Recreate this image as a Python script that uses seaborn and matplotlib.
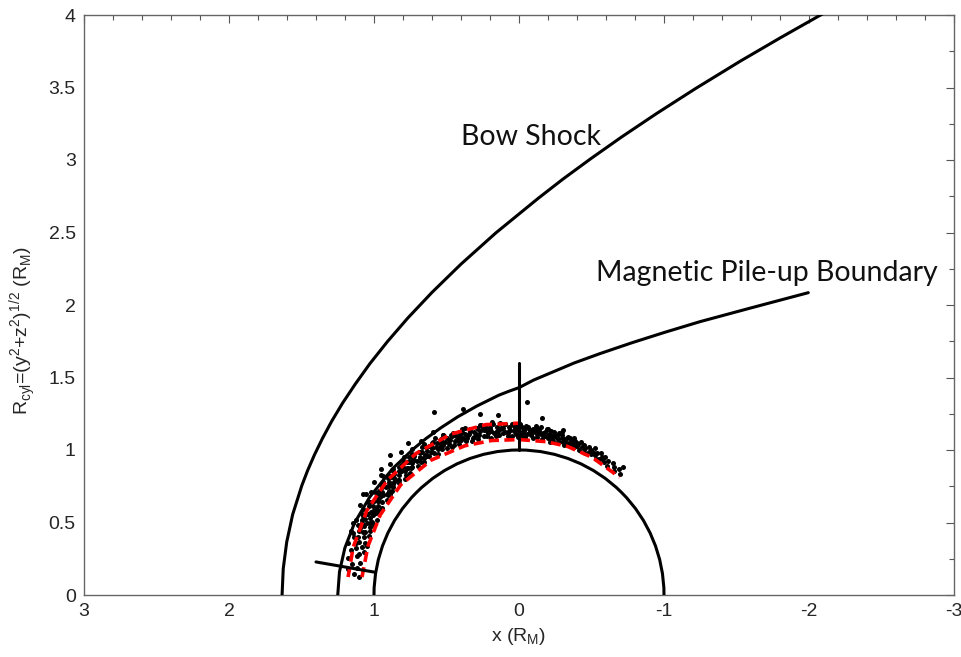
import numpy as np
import matplotlib
matplotlib.use("Agg")
import matplotlib.pyplot as plt
from matplotlib.patches import Arc
from matplotlib.ticker import MultipleLocator, FuncFormatter
import seaborn as sns

# Bow shock (x, Rcyl) in planet radii
bow_x = [1.634, 1.626, 1.602, 1.561, 1.498, 1.458, 1.411, 1.356, 1.292, 1.217,
         1.129, 1.028, 0.908, 0.767, 0.600, 0.400, 0.160, -0.134, -0.304, -0.495,
         -0.708, -0.948, -1.218, -1.525, -1.801, -2.110]
bow_y = [0.000, 0.181, 0.365, 0.555, 0.754, 0.858, 0.966, 1.079, 1.198, 1.323,
         1.455, 1.596, 1.747, 1.910, 2.087, 2.282, 2.497, 2.737, 2.869, 3.009,
         3.159, 3.320, 3.493, 3.681, 3.842, 4.017]

# Magnetic pile-up boundary
mpb_x = [1.250, 1.238, 1.201, 1.135, 1.030, 0.873, 0.728, 0.640, 0.539, 0.424,
         0.291, 0.139, 0.070, 0.000, -0.100, -0.214, -0.380, -0.559, -0.780,
         -1.000, -1.248, -1.600, -1.995]
mpb_y = [0.000, 0.160, 0.324, 0.495, 0.675, 0.870, 1.008, 1.080, 1.153, 1.228,
         1.303, 1.378, 1.405, 1.430, 1.482, 1.530, 1.600, 1.665, 1.740,
         1.810, 1.885, 1.980, 2.085]

# planet radius
planet_r = 1.0

# short marker segments
mark1_x = [0.0, 0.0]
mark1_y = [1.0, 1.6]
mark2_x = [1.40, 0.993]
mark2_y = [0.228, 0.157]

# red dashed fits (angle from +x in degrees, radius)
outer_th = [6, 16, 29, 41, 54, 67, 79, 90]
outer_r = [1.185, 1.19, 1.20, 1.205, 1.207, 1.205, 1.197, 1.185]
inner_th = [6.5, 18, 30, 43, 57, 70, 80, 90, 100, 108, 118, 130.5]
inner_r = [1.09, 1.095, 1.105, 1.115, 1.11, 1.095, 1.082, 1.072, 1.074, 1.078, 1.075, 1.068]

# crossing points (angle in degrees, radius)
pts_th = [
    6.3, 7.4, 8.6, 9.5, 10.4, 11.5, 12.3, 13.6,
    14.2, 14.9, 15.6, 16.1, 16.8, 17.2, 17.7, 17.9,
    18.3, 18.8, 19.4, 19.9, 20.5, 21.0, 21.4, 21.8,
    22.3, 22.7, 23.1, 23.6, 24.0, 24.4, 24.8, 25.2, 25.5, 25.9,
    26.2, 26.5, 26.9, 27.4, 27.8, 28.1, 28.6, 29.0, 29.3, 29.8,
    30.1, 30.6, 31.0, 31.3, 31.7, 32.2, 32.5, 33.0, 33.4, 33.8,
    34.3, 34.6, 35.1, 35.5, 35.8, 36.3, 36.7, 37.0, 37.4, 37.9,
    38.2, 38.5, 39.0, 39.4, 39.9, 40.2, 40.6, 41.1, 41.4, 41.8,
    42.1, 42.6, 43.0, 43.3, 43.8, 44.2, 44.5, 45.0, 45.4, 45.9,
    46.3, 46.7, 47.0, 47.5, 47.9, 48.2, 48.6, 49.1, 49.5, 49.8,
    50.2, 50.6, 51.1, 51.4, 51.8, 52.3, 52.6, 53.0, 53.5, 53.9,
    54.1, 54.5, 55.0, 55.4, 55.7, 56.2, 56.6, 57.1, 57.4, 57.8,
    58.3, 58.7, 59.0, 59.5, 59.9, 60.3, 60.6, 61.0, 61.5, 61.8,
    62.2, 62.5, 63.0, 63.4, 63.9, 64.1, 64.6, 65.0, 65.3, 65.8,
    66.1, 66.6, 67.0, 67.3, 67.8, 68.2, 68.5, 69.0, 69.4, 69.9,
    70.3, 70.7, 71.0, 71.5, 71.8, 72.2, 72.7, 73.1, 73.4, 73.8,
    74.2, 74.5, 75.0, 75.4, 75.9, 76.1, 76.6, 77.0, 77.5, 77.8,
    78.1, 78.6, 79.0, 79.3, 79.8, 80.2, 80.5, 81.0, 81.4, 81.9,
    82.3, 82.7, 83.0, 83.5, 83.8, 84.2, 84.6, 85.1, 85.4, 85.9,
    86.2, 86.5, 87.0, 87.4, 87.8, 88.3, 88.6, 89.0, 89.5, 89.8,
    90.1, 90.6, 91.0, 91.3, 91.8, 92.2, 92.5, 93.0, 93.4, 93.9,
    94.3, 94.7, 95.0, 95.5, 95.9, 96.2, 96.6, 97.1, 97.4, 97.8,
    98.2, 98.5, 99.0, 99.4, 99.8, 100.3, 100.6, 101.0, 101.5, 101.8,
    102.1, 102.6, 103.0, 103.3, 103.8, 104.2, 104.5, 105.0, 105.4, 105.9,
    106.3, 106.7, 107.0, 107.5, 107.8, 108.3, 108.6, 109.1, 109.4, 109.8,
    110.3, 110.8, 111.4, 111.9, 112.5, 113.0, 113.5, 113.9,
    114.2, 114.8, 115.3, 115.9, 116.4, 116.9, 117.3, 117.8,
    118.4, 118.9, 119.5, 119.9, 120.6, 121.0, 121.5, 121.9,
    122.5, 123.4, 124.3, 125.5, 126.4, 127.5, 128.6, 129.8,
    64.9, 73.4, 92.3, 54.0, 47.3, 42.3, 83.4, 77.9, 97.3, 104.8, 129.0, 38.0,
]
pts_r = [
    1.11, 1.15, 1.19, 1.13, 1.17, 1.12, 1.21, 1.15,
    1.14, 1.20, 1.11, 1.17, 1.23, 1.13, 1.18, 1.10,
    1.16, 1.12, 1.21, 1.18, 1.14, 1.24, 1.11, 1.19,
    1.15, 1.19, 1.12, 1.21, 1.17, 1.13, 1.24, 1.16, 1.20, 1.11,
    1.18, 1.13, 1.21, 1.16, 1.11, 1.19, 1.15, 1.23, 1.17, 1.14,
    1.16, 1.20, 1.13, 1.18, 1.22, 1.15, 1.12, 1.19, 1.26, 1.17,
    1.14, 1.19, 1.17, 1.21, 1.12, 1.16, 1.20, 1.18, 1.15, 1.13,
    1.20, 1.15, 1.18, 1.13, 1.22, 1.17, 1.14, 1.19, 1.16, 1.21,
    1.16, 1.21, 1.13, 1.18, 1.15, 1.20, 1.23, 1.17, 1.12, 1.19,
    1.18, 1.14, 1.21, 1.16, 1.19, 1.13, 1.17, 1.22, 1.15, 1.20,
    1.15, 1.19, 1.17, 1.22, 1.13, 1.18, 1.16, 1.20, 1.14, 1.25,
    1.17, 1.13, 1.20, 1.15, 1.19, 1.16, 1.22, 1.14, 1.18, 1.21,
    1.16, 1.20, 1.14, 1.18, 1.12, 1.21, 1.17, 1.15, 1.19, 1.23,
    1.14, 1.18, 1.16, 1.20, 1.13, 1.17, 1.22, 1.15, 1.19, 1.12,
    1.17, 1.13, 1.19, 1.15, 1.21, 1.12, 1.18, 1.16, 1.14, 1.20,
    1.15, 1.19, 1.12, 1.17, 1.14, 1.21, 1.16, 1.11, 1.18, 1.13,
    1.13, 1.17, 1.15, 1.11, 1.19, 1.14, 1.16, 1.20, 1.12, 1.18,
    1.16, 1.12, 1.18, 1.14, 1.10, 1.17, 1.15, 1.21, 1.13, 1.11,
    1.14, 1.17, 1.11, 1.15, 1.19, 1.12, 1.16, 1.13, 1.18, 1.10,
    1.12, 1.16, 1.14, 1.10, 1.18, 1.13, 1.15, 1.11, 1.17, 1.09,
    1.13, 1.10, 1.16, 1.12, 1.14, 1.09, 1.17, 1.11, 1.15, 1.13,
    1.11, 1.15, 1.09, 1.13, 1.16, 1.12, 1.10, 1.14, 1.17, 1.12,
    1.12, 1.09, 1.14, 1.11, 1.16, 1.10, 1.13, 1.15, 1.08, 1.12,
    1.10, 1.13, 1.08, 1.12, 1.15, 1.11, 1.09, 1.14, 1.12, 1.10,
    1.11, 1.08, 1.13, 1.10, 1.14, 1.09, 1.12, 1.11, 1.15, 1.10,
    1.09, 1.12, 1.10, 1.14, 1.08, 1.11, 1.13, 1.10,
    1.11, 1.08, 1.13, 1.10, 1.12, 1.09, 1.14, 1.11,
    1.10, 1.12, 1.08, 1.13, 1.09, 1.11, 1.10, 1.12,
    1.09, 1.11, 1.08, 1.12, 1.10, 1.08, 1.11, 1.09,
    1.39, 1.34, 1.33, 1.30, 1.31, 1.29, 1.25, 1.28, 1.23, 1.18, 1.14, 1.27,
]

# more crossings in the upper part of the band and scattered outliers
pts2_th = [
    20.6, 22.0, 23.4, 24.6, 25.9, 27.1, 28.4, 29.6, 30.9, 32.1,
    33.5, 34.8, 36.0, 37.3, 38.7, 39.8, 41.2, 42.5, 43.7, 45.1,
    46.4, 47.6, 48.9, 50.3, 51.5, 52.8, 54.2, 55.4, 56.7, 58.0,
    59.3, 60.6, 61.9, 63.2, 64.5, 65.8, 67.1, 68.4, 69.7, 71.0,
    72.3, 73.6, 74.9, 76.2, 77.5, 78.8, 80.1, 81.4, 82.7, 84.0,
    85.3, 86.6, 87.9, 89.2, 90.5, 91.8, 93.1, 94.4, 95.7, 97.0,
    98.3, 99.6, 100.9, 102.2, 103.5, 104.8, 106.1, 107.4, 108.7, 110.0,
    111.3, 41.0, 45.5, 50.5, 57.5, 33.0, 62.0,
]
pts2_r = [
    1.22, 1.16, 1.25, 1.19, 1.14, 1.22, 1.18, 1.26, 1.15, 1.21,
    1.17, 1.24, 1.19, 1.14, 1.22, 1.17, 1.25, 1.20, 1.15, 1.23,
    1.18, 1.21, 1.16, 1.24, 1.19, 1.22, 1.17, 1.20, 1.15, 1.23,
    1.18, 1.21, 1.16, 1.19, 1.22, 1.17, 1.20, 1.15, 1.18, 1.21,
    1.16, 1.19, 1.14, 1.18, 1.20, 1.15, 1.17, 1.19, 1.14, 1.16,
    1.18, 1.13, 1.17, 1.15, 1.18, 1.14, 1.16, 1.12, 1.17, 1.15,
    1.13, 1.16, 1.12, 1.15, 1.13, 1.16, 1.12, 1.14, 1.11, 1.13,
    1.12, 1.26, 1.27, 1.28, 1.26, 1.28, 1.27,
]


def polar_to_xy(th, r):
    t = np.radians(th)
    return np.array(r) * np.cos(t), np.array(r) * np.sin(t)


sns.set_style("white")
plt.rcParams['font.family'] = ['Liberation Sans', 'DejaVu Sans']
plt.rcParams['mathtext.fontset'] = 'custom'
plt.rcParams['mathtext.rm'] = 'Liberation Sans'

fig = plt.figure(figsize=(9.61, 6.57), dpi=100)
ax = fig.add_axes([84 / 961, 62 / 657, 870 / 961, 580 / 657])

lw = 2.2
px, py = polar_to_xy(pts_th + pts2_th, pts_r + pts2_r)
sns.scatterplot(x=px, y=py, color='black', s=13, marker='o', linewidth=0, ax=ax, zorder=2)

ox, oy = polar_to_xy(outer_th, outer_r)
ix, iy = polar_to_xy(inner_th, inner_r)
dash = (0, (2.8, 1.5))
sns.lineplot(x=ox, y=oy, sort=False, estimator=None, color='red', lw=2.6,
             linestyle=dash, ax=ax, zorder=3)
sns.lineplot(x=ix, y=iy, sort=False, estimator=None, color='red', lw=2.6,
             linestyle=dash, ax=ax, zorder=3)

sns.lineplot(x=bow_x, y=bow_y, sort=False, estimator=None, color='black', lw=lw, ax=ax, zorder=4)
sns.lineplot(x=mpb_x, y=mpb_y, sort=False, estimator=None, color='black', lw=lw, ax=ax, zorder=4)
sns.lineplot(x=mark1_x, y=mark1_y, sort=False, estimator=None, color='black', lw=lw, ax=ax, zorder=4)
sns.lineplot(x=mark2_x, y=mark2_y, sort=False, estimator=None, color='black', lw=lw, ax=ax, zorder=4)
ax.add_patch(Arc((0, 0), 2 * planet_r, 2 * planet_r, theta1=0, theta2=180,
                 color='black', lw=lw, zorder=4))

ax.text(0.40, 3.103, 'Bow Shock', family='Lato', fontsize=20.5, color='#111111',
        ha='left', va='baseline')
ax.text(-0.53, 2.166, 'Magnetic Pile-up Boundary', family='Lato', fontsize=20.5,
        color='#111111', ha='left', va='baseline')

ax.set_xlim(3, -3)
ax.set_ylim(0, 4)
ax.xaxis.set_major_locator(MultipleLocator(1))
ax.xaxis.set_minor_locator(MultipleLocator(0.2))
ax.yaxis.set_major_locator(MultipleLocator(0.5))
ax.yaxis.set_minor_locator(MultipleLocator(0.25))
ax.tick_params(which='both', direction='in', top=True, right=True, color='#555555',
               labelsize=14, pad=6)
ax.tick_params(which='major', length=5.5, width=0.8)
ax.tick_params(which='minor', length=3.5, width=0.8)
ax.xaxis.set_major_formatter(FuncFormatter(lambda v, p: f'{v:g}'))
ax.yaxis.set_major_formatter(FuncFormatter(lambda v, p: f'{v:g}'))
for s in ax.spines.values():
    s.set_color('#666666')
    s.set_linewidth(1.0)

ax.set_xlabel(r'x (R$_{\mathregular{M}}$)', fontsize=14, labelpad=4)
ax.set_ylabel(r'R$_{\mathregular{cyl}}$=(y$^{\mathregular{2}}$+z$^{\mathregular{2}}$)$^{\mathregular{1/2}}$ (R$_{\mathregular{M}}$)',
              fontsize=14)
ax.yaxis.set_label_coords(-0.052, 0.455)

fig.savefig('out.png', dpi=100)
